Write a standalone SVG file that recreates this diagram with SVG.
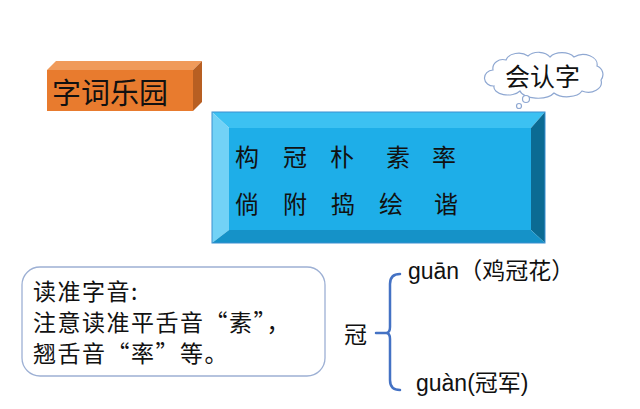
<svg xmlns="http://www.w3.org/2000/svg" width="640" height="409" viewBox="0 0 640 409">
<style>
.cjk{font-family:"Liberation Sans","Noto Sans CJK SC",sans-serif;fill:#111}
.zh{font-family:"Noto Sans CJK SC",sans-serif;fill:#111;font-size:23px;letter-spacing:1.5px}
.br{fill:none;stroke:#4472c4;stroke-width:2.5;stroke-linecap:round;stroke-linejoin:round}
</style>
<rect width="640" height="409" fill="#ffffff"/>
<g id="title">
<polygon points="47,70 56,61 202,61 193,70" fill="#f09a5a"/>
<polygon points="193,70 202,61 202,102 193,111" fill="#b85f22"/>
<rect x="47" y="70" width="146" height="41" fill="#e87b2e"/>
<text class="cjk" x="52" y="104" font-size="29">字词乐园</text>
</g>
<g id="cloud">
<path d="M493,70 A10,9 0 0 1 506,60 A13,9 0 0 1 528,56 A13,9 0 0 1 550,57 A14,9 0 0 1 574,57 A14,10 0 0 1 597,66 A9,9 0 0 1 601,80 A13,10 0 0 1 582,91 A16,9 0 0 1 554,93 A18,9 0 0 1 520,91 A14,8 0 0 1 494,86 A9,8 0 0 1 493,70 Z" fill="#ffffff" stroke="#8fa8d2" stroke-width="1.2"/>
<circle cx="526" cy="99" r="3.5" fill="#fff" stroke="#8fa8d2" stroke-width="1.2"/>
<circle cx="519" cy="106" r="2.5" fill="#fff" stroke="#8fa8d2" stroke-width="1.2"/>
<text class="cjk" x="505" y="86" font-size="25">会认字</text>
</g>
<g id="words">
<polygon points="212,112 545,112 531,128 229,128" fill="#3cc1f2"/>
<polygon points="212,112 229,128 229,230 212,243" fill="#72d2f6"/>
<polygon points="545,112 545,243 531,230 531,128" fill="#0b6b93"/>
<polygon points="212,243 229,230 531,230 545,243" fill="#1592c8"/>
<rect x="229" y="128" width="302" height="102" fill="#1eaee8"/>
<rect x="212" y="112" width="333" height="131" fill="none" stroke="#3b8fd0" stroke-width="1"/>
<text class="cjk" font-size="24" y="166"><tspan x="235">构</tspan><tspan x="283">冠</tspan><tspan x="330">朴</tspan><tspan x="386">素</tspan><tspan x="432">率</tspan></text>
<text class="cjk" font-size="24" y="213"><tspan x="235">倘</tspan><tspan x="283">附</tspan><tspan x="331">捣</tspan><tspan x="379">绘</tspan><tspan x="434">谐</tspan></text>
</g>
<g id="note">
<rect x="22" y="267" width="303" height="109" rx="18" fill="#ffffff" stroke="#9db0d4" stroke-width="1.3"/>
<text class="zh" x="33" y="300">读准字音:</text>
<text class="zh" x="33" y="331">注意读准平舌音“素”，</text>
<text class="zh" x="33" y="362">翘舌音“率”等。</text>
</g>
<g id="guan">
<text class="cjk" font-size="23" x="344" y="343">冠</text>
</g>
<g id="connectors">
<path class="br" d="M376,333 L386,333 M400,274 Q390,274 390,284 L390,327 Q390,333 386,333 Q390,333 390,339 L390,380 Q390,390 400,390"/>
</g>
<g id="readings">
<text class="cjk" font-size="23" x="408" y="279">guān（鸡冠花）</text>
<text class="cjk" font-size="23" x="416" y="391">guàn(冠军)</text>
</g>
</svg>
